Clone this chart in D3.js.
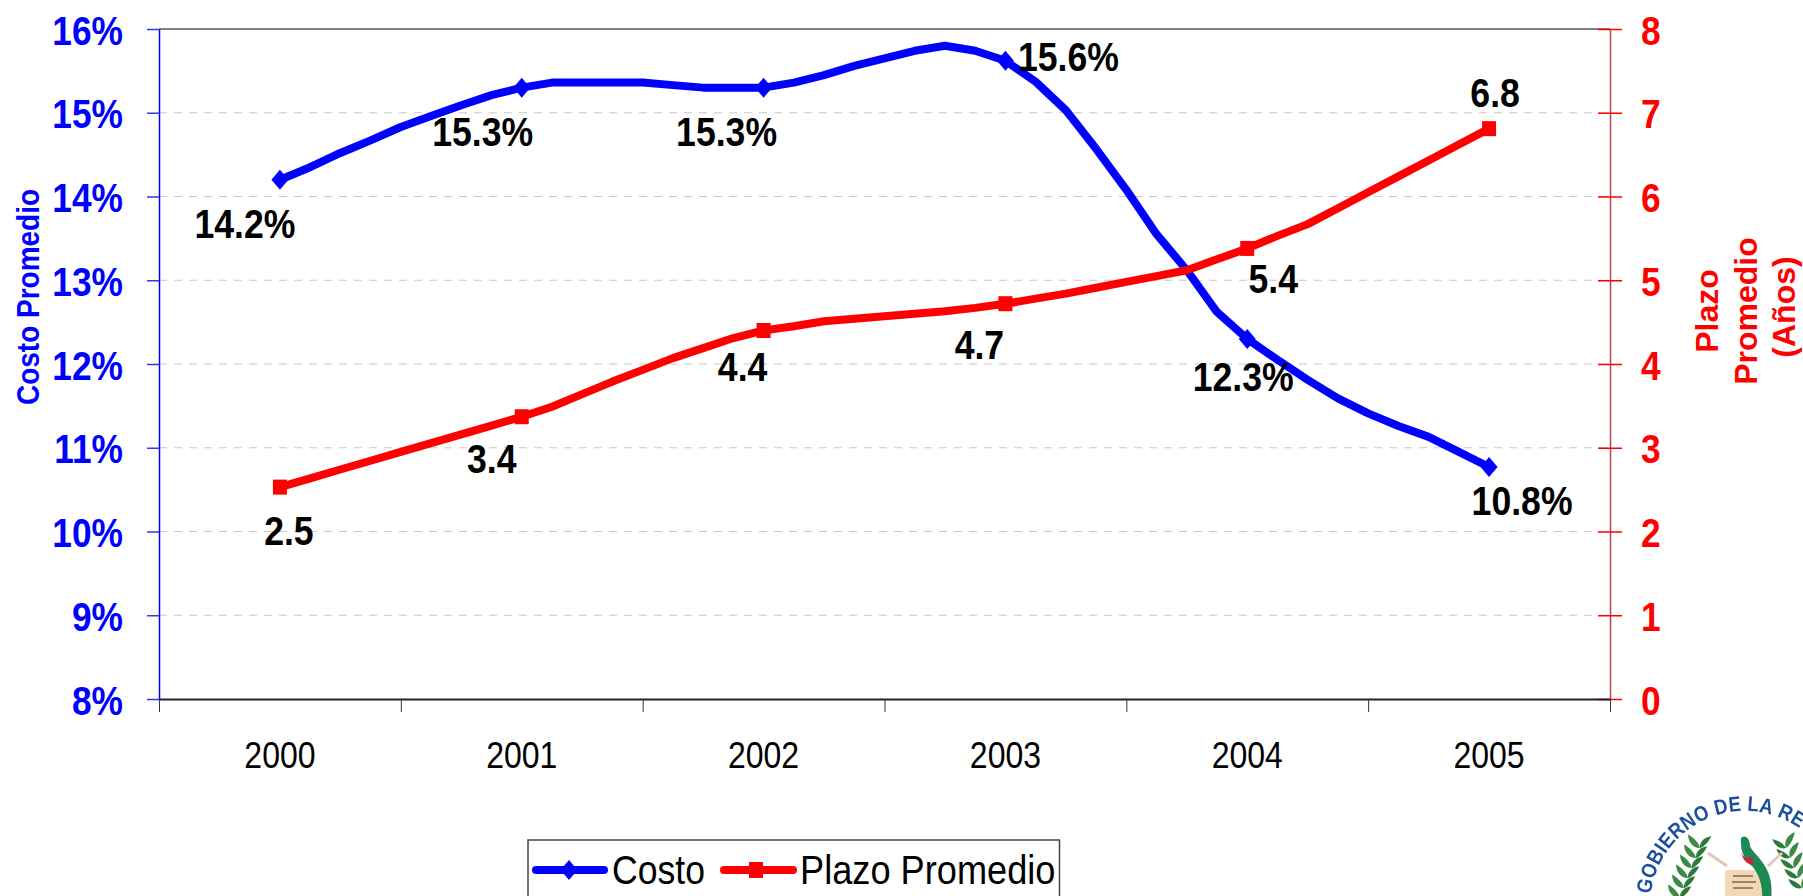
<!DOCTYPE html>
<html>
<head>
<meta charset="utf-8">
<script src="https://cdn.jsdelivr.net/npm/d3@7/dist/d3.min.js"></script>
<style>
html,body{margin:0;padding:0;background:#fff;overflow:hidden}
svg{display:block}
text{font-family:"Liberation Sans",Arial,sans-serif}
</style>
</head>
<body>
<svg id="chart" width="1803" height="896"></svg>
<script>
const years = ["2000","2001","2002","2003","2004","2005"];
const stepsPerYear = 8;
const costo = [14.2,14.35,14.52,14.67,14.83,14.96,15.09,15.21,
  15.3,15.36,15.36,15.36,15.36,15.33,15.3,15.3,
  15.3,15.36,15.45,15.56,15.65,15.74,15.8,15.74,
  15.62,15.37,15.03,14.57,14.08,13.55,13.12,12.62,
  12.3,12.05,11.81,11.59,11.41,11.26,11.13,10.95,
  10.77];
const plazo = [2.53,2.635,2.74,2.845,2.95,3.055,3.16,3.265,
  3.37,3.49,3.64,3.79,3.93,4.07,4.19,4.31,
  4.4,4.45,4.51,4.54,4.57,4.6,4.63,4.67,
  4.72,4.78,4.84,4.91,4.98,5.05,5.12,5.25,
  5.38,5.53,5.67,5.86,6.05,6.24,6.43,6.62,
  6.81];
const costoLabels = ["14.2%","15.3%","15.3%","15.6%","12.3%","10.8%"];
const plazoLabels = ["2.5","3.4","4.4","4.7","5.4","6.8"];
const leftTicks = [8,9,10,11,12,13,14,15,16];
const rightTicks = [0,1,2,3,4,5,6,7,8];
const legendNames = ["Costo","Plazo Promedio"];

const BLUE = "#0000ff", RED = "#ff0000";
const svg = d3.select("#chart");
const L = 159, R = 1610, T = 29, B = 699;
const STRETCH = 1.16;

const x = d3.scaleLinear().domain([-4, 44]).range([L, R]);
const yL = d3.scaleLinear().domain([8, 16]).range([B, T]);
const yR = d3.scaleLinear().domain([0, 8]).range([B, T]);
const idx = d3.range(costo.length);
const yearIdx = years.map((d, i) => i * stepsPerYear);

// gridlines
svg.append("g").selectAll("line").data(leftTicks.slice(1, -1)).join("line")
  .attr("x1", L).attr("x2", R).attr("y1", d => yL(d)).attr("y2", d => yL(d))
  .attr("stroke", "#c8c8c8").attr("stroke-width", 1).attr("stroke-dasharray", "8 7");

// plot frame top
svg.append("line").attr("x1", L).attr("x2", R).attr("y1", T).attr("y2", T)
  .attr("stroke", "#808080").attr("stroke-width", 2);

function stretchTicks(g, tx, anchor, size, color, dy) {
  g.selectAll("text")
    .attr("x", null).attr("y", null).attr("dy", null)
    .attr("text-anchor", anchor)
    .attr("font-size", size).attr("font-weight", "bold")
    .attr("fill", color).style("font-family", '"Liberation Sans",Arial,sans-serif')
    .attr("transform", `translate(${tx},${dy}) scale(1,${STRETCH})`);
}

// left axis
const gL = svg.append("g").attr("transform", `translate(${L},0)`)
  .call(d3.axisLeft(yL).tickValues(leftTicks).tickFormat(d => d + "%").tickSize(12).tickSizeOuter(0));
gL.selectAll("path,line").attr("stroke", BLUE).attr("stroke-width", 1.5);
gL.selectAll("line").attr("stroke-opacity", 0.8);
stretchTicks(gL, -36, "end", 35.3, BLUE, 15);

// right axis
const gR = svg.append("g").attr("transform", `translate(${R},0)`)
  .call(d3.axisRight(yR).tickValues(rightTicks).tickFormat(d3.format("d")).tickSize(12).tickSizeOuter(0));
gR.selectAll("path").attr("stroke", "#b84a4a").attr("stroke-width", 1.5);
gR.selectAll("line").attr("x1", -12).attr("stroke", RED).attr("stroke-width", 1.5);
stretchTicks(gR, 31, "start", 35.3, RED, 15);

// bottom axis
const bottomTicks = d3.range(-4, 45, stepsPerYear);
const gB = svg.append("g").attr("transform", `translate(0,${B})`)
  .call(d3.axisBottom(x).tickValues(bottomTicks).tickFormat("").tickSize(13).tickSizeOuter(0));
gB.selectAll("path").attr("stroke", "#222").attr("stroke-width", 2);
gB.selectAll("line").attr("stroke", "#333").attr("stroke-width", 1);
svg.append("g").selectAll("text").data(years).join("text")
  .attr("text-anchor", "middle").attr("font-size", 32).attr("fill", "#000")
  .attr("transform", (d, i) => `translate(${x(yearIdx[i])},768) scale(1,${STRETCH})`)
  .text(d => d);

// axis titles
svg.append("text").attr("text-anchor", "middle").attr("font-size", 28).attr("font-weight", "bold")
  .attr("fill", BLUE).attr("transform", "translate(39,297) rotate(-90) scale(1,1.15)").text("Costo Promedio");
svg.append("g").selectAll("text").data(["Plazo", "Promedio", "(Años)"]).join("text")
  .attr("text-anchor", "middle").attr("font-size", 32).attr("font-weight", "bold").attr("fill", RED)
  .attr("transform", (d, i) => `translate(${[1718, 1757, 1795][i]},${[311, 311, 307][i]}) rotate(-90)`)
  .text(d => d);

// series
const line = y => d3.line().x(i => x(i)).y(y);
svg.append("path").datum(idx).attr("fill", "none").attr("stroke", BLUE)
  .attr("stroke-width", 8).attr("stroke-linejoin", "round")
  .attr("d", line(i => yL(costo[i])));
svg.append("path").datum(idx).attr("fill", "none").attr("stroke", RED)
  .attr("stroke-width", 8).attr("stroke-linejoin", "round")
  .attr("d", line(i => yR(plazo[i])));

const diamond = (cx, cy) => `M${cx},${cy - 10}L${cx + 8.5},${cy}L${cx},${cy + 10}L${cx - 8.5},${cy}Z`;
svg.append("g").selectAll("path").data(yearIdx).join("path")
  .attr("d", i => diamond(x(i), yL(costo[i]))).attr("fill", BLUE);
svg.append("g").selectAll("rect").data(yearIdx).join("rect")
  .attr("x", i => x(i) - 7).attr("y", i => yR(plazo[i]) - 7.5).attr("width", 14).attr("height", 15).attr("fill", RED);

// data labels
const costoOffset = [[-35,58],[-39,58],[-37,58],[63,10],[-4,52],[33,48]];
const plazoOffset = [[9,58],[-30,56],[-21,50],[-26,55],[26,45],[6,-22]];
function dataLabels(labels, offs, y, values) {
  svg.append("g").selectAll("text").data(labels).join("text")
    .attr("text-anchor", "middle").attr("font-size", 35.6).attr("font-weight", "bold").attr("fill", "#000")
    .attr("transform", (d, i) => `translate(${x(yearIdx[i]) + offs[i][0]},${y(values[yearIdx[i]]) + offs[i][1]}) scale(1,${STRETCH})`)
    .text(d => d);
}
dataLabels(costoLabels, costoOffset, yL, costo);
dataLabels(plazoLabels, plazoOffset, yR, plazo);

// legend
const lg = svg.append("g");
lg.append("path").attr("d", "M528,900V840H1059.5V900").attr("fill", "none").attr("stroke", "#444").attr("stroke-width", 1.5);
const lgY = 870;
lg.append("line").attr("x1", 536).attr("x2", 604).attr("y1", lgY).attr("y2", lgY)
  .attr("stroke", BLUE).attr("stroke-width", 8).attr("stroke-linecap", "round");
lg.append("path").attr("d", diamond(569, lgY)).attr("fill", BLUE);
lg.append("line").attr("x1", 724).attr("x2", 793).attr("y1", lgY).attr("y2", lgY)
  .attr("stroke", RED).attr("stroke-width", 8).attr("stroke-linecap", "round");
lg.append("rect").attr("x", 749).attr("y", lgY - 8).attr("width", 14).attr("height", 16).attr("fill", RED);
lg.append("text").attr("font-size", 35.6).attr("transform", "translate(612,884) scale(1,1.14)").text(legendNames[0]);
lg.append("text").attr("font-size", 36.2).attr("transform", "translate(800,884) scale(1,1.12)").text(legendNames[1]);

// emblem (corner of the page)
const em = svg.append("g");
const blur = svg.append("defs").append("filter").attr("id", "soft");
blur.append("feGaussianBlur").attr("stdDeviation", 0.7);
em.attr("filter", "url(#soft)");
const cx = 1745, cy = 906, rr = 95;
const emblemText = "GOBIERNO DE LA RE";
const meas = document.createElement("canvas").getContext("2d");
const emFont = 18.5;
meas.font = `bold ${emFont}px "Liberation Sans"`;
let ang = -83;
emblemText.split("").forEach(ch => {
  const w = meas.measureText(ch).width;
  const da = (w / rr) * 180 / Math.PI * 1.02;
  if (ch !== " ") {
    em.append("text").attr("font-size", emFont).attr("font-weight", "bold").attr("fill", "#1f4f9f")
      .attr("text-anchor", "middle")
      .attr("transform", `translate(${cx},${cy}) rotate(${ang + da / 2}) translate(0,${-rr}) scale(1,1.15)`)
      .text(ch);
  }
  ang += da;
});
const leaf = "M0,0C4,-6 12,-6 18,-2C12,1 4,2 0,0Z";
[[1700,848],[1696,858],[1692,868],[1688,878],[1684,888],[1680,898]].forEach(([a,b]) => {
  em.append("path").attr("d", leaf).attr("fill", "#3e8a45").attr("transform", `translate(${a},${b}) rotate(-125)`);
  em.append("path").attr("d", leaf).attr("fill", "#2f7a3a").attr("transform", `translate(${a},${b}) rotate(-40) scale(.9)`);
});
[[1786,848],[1790,858],[1794,868],[1798,878],[1802,888]].forEach(([a,b]) => {
  em.append("path").attr("d", leaf).attr("fill", "#3e8a45").attr("transform", `translate(${a},${b}) rotate(-55)`);
  em.append("path").attr("d", leaf).attr("fill", "#2f7a3a").attr("transform", `translate(${a},${b}) rotate(-140) scale(.9)`);
});
em.append("path").attr("d", "M1708,853L1727,866").attr("stroke", "#dcc8ba").attr("stroke-width", 3).attr("fill", "none");
em.append("path").attr("d", "M1782,853L1768,866").attr("stroke", "#dcc8ba").attr("stroke-width", 3).attr("fill", "none");
em.append("rect").attr("x", 1725).attr("y", 870).attr("width", 38).attr("height", 30).attr("rx", 3).attr("fill", "#f2d9b4");
em.append("path").attr("d", "M1733,876h20M1732,882h24M1733,888h20").attr("stroke", "#7a6a50").attr("stroke-width", 1.5);
em.append("path").attr("d", "M1741,838C1745,834 1750,838 1750,846C1752,852 1762,858 1768,872C1772,882 1772,890 1771,900L1762,900C1763,888 1760,875 1752,866C1744,860 1740,850 1741,838Z").attr("fill", "#1f8a55");
em.append("path").attr("d", "M1741,853C1744,858 1748,860 1751,856L1754,864C1748,866 1743,860 1741,853Z").attr("fill", "#c8283a");
</script>
</body>
</html>
